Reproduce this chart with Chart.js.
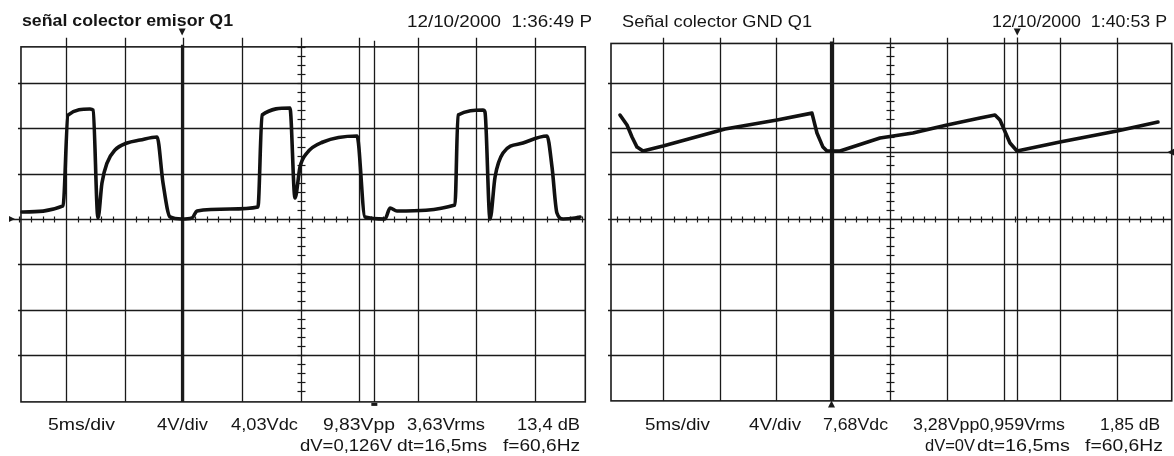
<!DOCTYPE html>
<html>
<head>
<meta charset="utf-8">
<script src="https://cdn.jsdelivr.net/npm/chart.js@4/dist/chart.umd.min.js"></script>
<style>
  html, body { margin: 0; padding: 0; background: #fff; width: 1174px; height: 456px; overflow: hidden; }
  #wrap { position: relative; width: 1174px; height: 456px; }
  canvas { position: absolute; top: 0; }
  .t { position: absolute; white-space: pre; font-family: "Liberation Sans", Arial, sans-serif;
       color: #151515; line-height: 1; transform-origin: 0 0; }
</style>
</head>
<body>
<div id="wrap">
  <canvas id="scopeA"></canvas>
  <canvas id="scopeB"></canvas>
</div>
<script>
// Collector-emitter trace of Q1: time (ms, 5 ms/div) and voltage (V, 4 V/div)
const emitterTimeMs = [1.24, 4.74, 5.16, 7.04, 7.30, 7.72, 8.06, 8.49, 9.17, 10.20, 11.31, 12.76, 13.27, 13.87,
  14.87, 15.74, 16.17, 18.98, 21.37, 21.72, 24.10, 24.53, 24.96, 25.55, 26.92, 29.82, 30.50, 32.21, 32.64,
  33.23, 38.18, 38.44, 40.57, 40.74, 41.17, 41.60, 42.28, 43.98, 46.03, 46.46, 46.88, 47.40, 48.42, 48.85];
const emitterVolts = [0.62, 1.15, 9.18, 9.71, 9.62, 0.09, 3.18, 4.94, 6.09, 6.71, 6.97, 7.24, 3.18, 0.18,
  0.00, 0.09, 0.71, 0.88, 1.06, 9.18, 9.80, 1.85, 4.59, 5.83, 6.80, 7.33, 0.18, 0.00, 0.97,
  0.71, 1.24, 9.18, 9.62, 9.44, 0.00, 3.71, 5.83, 6.71, 7.33, 4.59, 0.53, 0.00, 0.09, 0.18];

// Collector-to-ground trace of Q1
const groundTimeMs = [1.23, 1.85, 2.29, 2.73, 3.26, 5.02, 10.48, 15.05, 18.13, 18.57, 19.10, 19.45, 20.60,
  24.12, 27.02, 30.02, 32.92, 34.24, 34.68, 35.56, 36.18, 39.96, 44.98, 48.59];
const groundVolts = [9.18, 8.30, 7.24, 6.35, 6.00, 6.44, 7.94, 8.74, 9.35, 7.59, 6.35, 6.00, 6.00,
  7.15, 7.59, 8.30, 8.91, 9.18, 8.74, 6.71, 6.00, 6.80, 7.77, 8.56];

// Cursor times (ms) and trigger level (V)
const emitterCursorsMs = [14.9, 31.3];
const groundCursorsMs = [19.85, 36.2];
const groundTriggerVolts = [5.9];

// Screen headers and measurement readouts
const headers = ['señal colector emisor Q1', '12/10/2000  1:36:49 P', 'Señal colector GND Q1', '12/10/2000  1:40:53 P'];
const emitterReadout = ['5ms/div', '4V/div', '4,03Vdc', '9,83Vpp', '3,63Vrms', '13,4 dB'];
const emitterCursorReadout = ['dV=0,126V', 'dt=16,5ms', 'f=60,6Hz'];
const groundReadout = ['5ms/div', '4V/div', '7,68Vdc', '3,28Vpp0,959Vrms', '1,85 dB'];
const groundCursorReadout = ['dV=0V', 'dt=16,5ms', 'f=60,6Hz'];

// ---- graticule drawing ----
const INK = '#1a1a1a';

function tri(ctx, x, y, dir, s) {
  ctx.beginPath();
  if (dir === 'down') { ctx.moveTo(x - s, y - s); ctx.lineTo(x + s, y - s); ctx.lineTo(x, y + s); }
  else if (dir === 'up') { ctx.moveTo(x - s, y + s); ctx.lineTo(x + s, y + s); ctx.lineTo(x, y - s); }
  else if (dir === 'right') { ctx.moveTo(x - s, y - s); ctx.lineTo(x - s, y + s); ctx.lineTo(x + s, y); }
  else { ctx.moveTo(x + s, y - s); ctx.lineTo(x + s, y + s); ctx.lineTo(x - s, y); }
  ctx.closePath(); ctx.fill();
}

const scopeGrid = {
  id: 'scopeGrid',
  beforeDatasetsDraw(chart, args, o) {
    const { ctx } = chart;
    const xs = chart.scales.x, ys = chart.scales.y;
    const X = v => xs.getPixelForValue(v), Y = v => ys.getPixelForValue(v);
    const bx0 = X(o.box[0]), bx1 = X(o.box[1]), by0 = Y(o.box[2]), by1 = Y(o.box[3]);
    ctx.save();
    ctx.strokeStyle = INK; ctx.fillStyle = INK; ctx.lineCap = 'butt';

    // vertical divisions
    ctx.lineWidth = 1.3;
    for (let t = 5; t < 50; t += 5) {
      const x = Math.round(X(t)) + 0.5;
      ctx.beginPath(); ctx.moveTo(x, Y(16)); ctx.lineTo(x, by1); ctx.stroke();
    }
    // horizontal divisions
    for (let v = -12; v <= 12; v += 4) {
      const y = Math.round(Y(v)) + 0.5;
      ctx.beginPath(); ctx.moveTo(v === 0 ? o.zeroStart : bx0 - 3, y); ctx.lineTo(bx1, y); ctx.stroke();
    }
    // trigger level line
    (o.trigger || []).forEach(v => {
      const y = Math.round(Y(v)) + 0.5;
      ctx.beginPath(); ctx.moveTo(bx0, y); ctx.lineTo(bx1, y); ctx.stroke();
    });
    // outer frame
    ctx.lineWidth = 1.6;
    ctx.strokeRect(bx0, by0, bx1 - bx0, by1 - by0);

    // minor ticks on the centre axes
    ctx.lineWidth = 1.2;
    const cx = Math.round(X(25)) + 0.5, cy = Math.round(Y(0)) + 0.5;
    for (let t = 1; t < 50; t += 1) {
      if (t % 5 === 0) continue;
      const x = Math.round(X(t)) + 0.5;
      ctx.beginPath(); ctx.moveTo(x, cy - 3); ctx.lineTo(x, cy + 3); ctx.stroke();
    }
    for (let v = -15.2; v <= 15.3; v += 0.8) {
      const y = Math.round(Y(v)) + 0.5;
      if (y < by0 - 8) continue;
      ctx.beginPath(); ctx.moveTo(cx - 4, y); ctx.lineTo(cx + 4, y); ctx.stroke();
    }

    // cursors
    const c0 = Math.round(X(o.cursors[0])) + 0.5, c1 = Math.round(X(o.cursors[1])) + 0.5;
    ctx.lineWidth = 3.2;
    ctx.beginPath(); ctx.moveTo(c0, by0 - 2); ctx.lineTo(c0, by1); ctx.stroke();
    ctx.lineWidth = 1.3;
    ctx.beginPath(); ctx.moveTo(c1, by0 - 6); ctx.lineTo(c1, by1); ctx.stroke();

    // markers
    (o.markers || []).forEach(m => {
      if (m.kind === 'top') tri(ctx, X(m.t), 32, 'down', 3.5);
      else if (m.kind === 'bottom') tri(ctx, X(m.t), by1 + 3, 'up', 3.5);
      else if (m.kind === 'left') tri(ctx, bx0 - 9, Y(m.v), 'right', 3);
      else if (m.kind === 'right') tri(ctx, bx1 - 1, Y(m.v), 'left', 3.5);
      else if (m.kind === 'square') ctx.fillRect(X(m.t) - 3, by1 + 1, 6, 3);
    });
    ctx.restore();
  }
};
Chart.register(scopeGrid);

function makeScope(id, left, width, times, volts, smooth, grid, padding) {
  const cv = document.getElementById(id);
  cv.width = width; cv.height = 456;
  cv.style.left = left + 'px'; cv.style.width = width + 'px'; cv.style.height = '456px';
  return new Chart(cv, {
    type: 'line',
    data: {
      datasets: [{
        data: times.map((t, i) => ({ x: t, y: volts[i] })),
        borderColor: '#111', borderWidth: 3.6, pointRadius: 0, tension: 0,
        cubicInterpolationMode: smooth ? 'monotone' : 'default',
        borderJoinStyle: 'round', borderCapStyle: 'round', fill: false
      }]
    },
    options: {
      responsive: false, animation: false, events: [],
      layout: { padding },
      scales: {
        x: { type: 'linear', min: 0, max: 50, display: false },
        y: { type: 'linear', min: -16, max: 16, display: false }
      },
      plugins: { legend: { display: false }, tooltip: { enabled: false }, scopeGrid: grid }
    }
  });
}

makeScope('scopeA', 0, 600, emitterTimeMs, emitterVolts, true, {
  box: [1.15, 49.3, 15.2, -16.15], zeroStart: 12, cursors: emitterCursorsMs,
  markers: [{ kind: 'top', t: emitterCursorsMs[0] }, { kind: 'square', t: emitterCursorsMs[1] }, { kind: 'left', v: 0 }]
}, { left: 7.5, right: 6.5, top: 37.8, bottom: 55.8 });

makeScope('scopeB', 600, 574, groundTimeMs, groundVolts, false, {
  box: [0.44, 49.8, 15.5, -16.06], zeroStart: 8, cursors: groundCursorsMs, trigger: groundTriggerVolts,
  markers: [{ kind: 'top', t: groundCursorsMs[1] }, { kind: 'bottom', t: groundCursorsMs[0] }, { kind: 'right', v: groundTriggerVolts[0] }]
}, { left: 6, right: 0, top: 37.8, bottom: 55.8 });

// ---- text ----
const wrap = document.getElementById('wrap');
function label(str, x, baseline, size, width, weight) {
  const el = document.createElement('div');
  el.className = 't';
  el.textContent = str;
  el.style.fontSize = size + 'px';
  el.style.fontWeight = weight || 'normal';
  el.style.left = x + 'px';
  el.style.top = (baseline - 0.8465 * size) + 'px';
  wrap.appendChild(el);
  const w = el.getBoundingClientRect().width;
  if (width && w > 0) el.style.transform = 'scaleX(' + (width / w) + ')';
  return el;
}

label(headers[0], 22, 27, 16, 211, 'bold');
label(headers[1], 407, 27, 16.5, 185);
label(headers[2], 622, 27, 16.5, 190);
label(headers[3], 992, 27, 16.5, 175);

const rowA = [[48, 67], [157, 51], [231, 67], [323, 72], [407, 78], [517, 63]];
emitterReadout.forEach((s, i) => label(s, rowA[i][0], 430, 17, rowA[i][1]));
const rowA2 = [[300, 92], [397, 90], [503, 77]];
emitterCursorReadout.forEach((s, i) => label(s, rowA2[i][0], 451.5, 17, rowA2[i][1]));

const rowB = [[645, 65], [749, 52], [823, 65], [913, 152], [1100, 60]];
groundReadout.forEach((s, i) => label(s, rowB[i][0], 430, 17, rowB[i][1]));
const rowB2 = [[925, 50], [977, 93], [1085, 78]];
groundCursorReadout.forEach((s, i) => label(s, rowB2[i][0], 451.5, 17, rowB2[i][1]));
</script>
</body>
</html>
